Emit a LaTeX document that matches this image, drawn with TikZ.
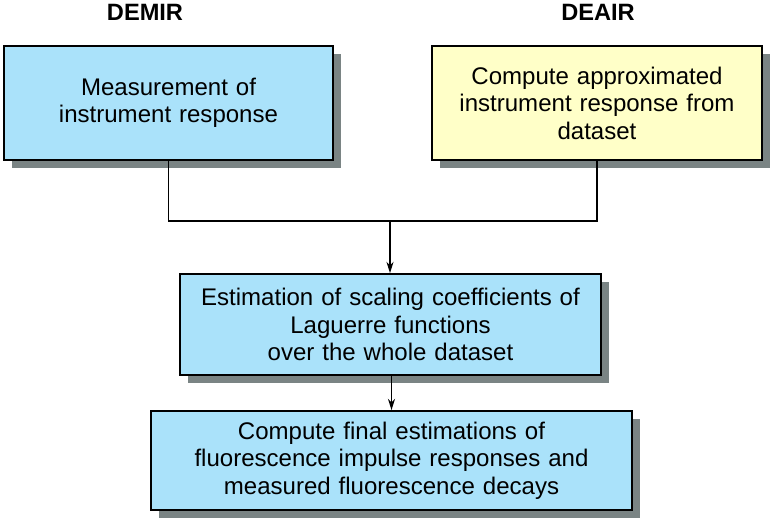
\documentclass[tikz,border=0pt]{standalone}
\usepackage{fontspec}
\setmainfont{Liberation Sans}
\usepackage{tikz}
\usetikzlibrary{arrows.meta,shadows}
\definecolor{boxblue}{RGB}{170,226,250}
\definecolor{boxyellow}{RGB}{255,255,200}
\definecolor{shadowgray}{RGB}{122,132,132}
\newcommand{\boxfont}{\fontsize{17.1}{19.5}\selectfont}

\begin{document}
\begin{tikzpicture}[
    stepbox/.style={rectangle,draw=black,line width=1.3pt,fill=boxblue,align=center,
        font=\boxfont,inner sep=0pt,
        execute at begin node={\spaceskip=0.33em\relax},
        drop shadow={shadow xshift=0.2cm,shadow yshift=-0.2cm,fill=shadowgray,opacity=1}},
    title/.style={font=\fontsize{16.8}{19}\selectfont\bfseries},
    link/.style={line width=1pt},
    flow/.style={line width=1pt,-{Stealth[length=8pt,width=5pt]}}]
    \useasboundingbox (0,0) rectangle (19.4,-13.075);
    % method titles
    \node[title] (demir) at (3.625,-0.32) {DEMIR};
    \node[title] (deair) at (14.95,-0.32) {DEAIR};
    % instrument response
    \node[stepbox,minimum width=8.225cm,minimum height=2.85cm] (measure) at (4.2125,-2.575)
        {Measurement of\\instrument response};
    \node[stepbox,fill=boxyellow,minimum width=8.25cm,minimum height=2.85cm] (approx) at (14.925,-2.575)
        {Compute approximated\\instrument response from\\dataset};
    % Laguerre estimation and final step
    \node[stepbox,minimum width=10.525cm,minimum height=2.525cm] (laguerre) at (9.7625,-8.1125)
        {Estimation of scaling coefficients of\\Laguerre functions\\over the whole dataset};
    \node[stepbox,minimum width=12.025cm,minimum height=2.475cm] (final) at (9.7875,-11.5125)
        {Compute final estimations of\\fluorescence impulse responses and\\measured fluorescence decays};
    % connectors
    \coordinate (join) at (9.75,-5.525);
    \draw[link] (measure.south) |- (join);
    \draw[link] (approx.south) |- (join);
    \draw[flow] (join) -- (join |- laguerre.north);
    \draw[flow] (laguerre.south -| final.north) -- (final.north);
\end{tikzpicture}
\end{document}
